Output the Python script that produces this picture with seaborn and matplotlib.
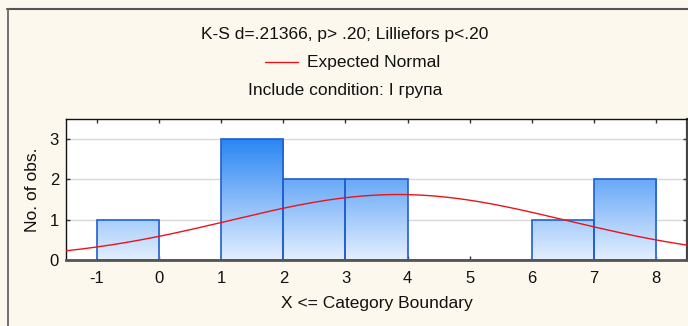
import numpy as np
import pandas as pd
import matplotlib
matplotlib.use("Agg")
import matplotlib.pyplot as plt
import seaborn as sns
from matplotlib.lines import Line2D
from matplotlib.colors import LinearSegmentedColormap

# Histogram bins (category boundaries) and observed counts
bin_edges = [-1, 0, 1, 2, 3, 4, 5, 6, 7, 8]
counts = [1, 0, 3, 2, 2, 0, 0, 1, 2]
x_ticks = [-1, 0, 1, 2, 3, 4, 5, 6, 7, 8]
y_ticks = [0, 1, 2, 3]

# Fitted normal parameters
fit_mean = 3.85
fit_sd = 2.70
n_obs = sum(counts)
bin_width = 1.0

title_lines = ["K-S d=.21366, p> .20; Lilliefors p<.20",
               "Expected Normal",
               "Include condition: I група"]

sns.set_theme(style="white")
plt.rcParams["font.family"] = ["Liberation Sans", "DejaVu Sans"]

bg = "#fdf8ee"
fs_text = 12.5
fs_tick = 12

fig = plt.figure(figsize=(6.88, 3.26), dpi=100, facecolor=bg)
ax = fig.add_axes([66 / 688, 66 / 326, 621 / 688, 141 / 326])
ax.set_facecolor("white")

centers = [(bin_edges[i] + bin_edges[i + 1]) / 2 for i in range(len(counts))]
df = pd.DataFrame({"x": centers, "n": counts})
sns.histplot(data=df, x="x", weights="n", bins=bin_edges, ax=ax,
             stat="count", fill=True, edgecolor="#1f5fd2", linewidth=1.2,
             facecolor="none", alpha=1)

# gradient fill inside each bar
cmap = LinearSegmentedColormap.from_list("bar", ["#e4efff", "#2a86f3"])
for p in ax.patches:
    h = p.get_height()
    if h <= 0:
        continue
    x0 = p.get_x()
    w = p.get_width()
    shade = np.linspace(0, min(1, h / 3.0), 256).reshape(-1, 1)
    im = ax.imshow(shade, extent=[x0, x0 + w, 0, h], origin="lower",
                   cmap=cmap, vmin=0, vmax=1, aspect="auto", zorder=1.5)
    im.set_clip_path(p)
    p.set_zorder(2)

# expected normal curve
xs = np.linspace(-1.5, 8.5, 400)
ys = n_obs * bin_width / (fit_sd * np.sqrt(2 * np.pi)) * np.exp(-0.5 * ((xs - fit_mean) / fit_sd) ** 2)
sns.lineplot(x=xs, y=ys, ax=ax, color="#e8141c", linewidth=1.0, zorder=3)

ax.set_xlim(-1.5, 8.5)
ax.set_ylim(0, 3.5)
ax.set_xticks(x_ticks)
ax.set_xticklabels([str(v) for v in x_ticks])
ax.set_yticks(y_ticks)
ax.set_yticklabels([str(v) for v in y_ticks])
ax.yaxis.grid(True, color="#d9d9d9", linewidth=1.0)
ax.set_axisbelow(True)
ax.tick_params(axis="both", which="both", direction="in", length=3, width=1,
               colors="#333333", labelcolor="#111111", labelsize=fs_tick,
               top=True, right=True, bottom=True, left=True, pad=8)
ax.tick_params(axis="y", pad=5)

for s in ["top", "left"]:
    ax.spines[s].set_color("#111111")
    ax.spines[s].set_linewidth(1.0)
ax.spines["right"].set_color("#444444")
ax.spines["right"].set_linewidth(1.6)
ax.spines["bottom"].set_color("#555555")
ax.spines["bottom"].set_linewidth(2.0)

ax.set_xlabel("X <= Category Boundary", fontsize=fs_text, color="#111111", labelpad=7)
ax.set_ylabel("No. of obs.", fontsize=fs_text, color="#111111", labelpad=7)

# header texts
fig.text(345 / 688, 1 - 34 / 326, title_lines[0], ha="center", va="center",
         fontsize=fs_text, color="#111111")
fig.text(307 / 688, 1 - 62 / 326, title_lines[1], ha="left", va="center",
         fontsize=fs_text, color="#111111")
fig.add_artist(Line2D([265 / 688, 298 / 688], [1 - 62 / 326, 1 - 62 / 326],
                      color="#e8141c", linewidth=1.0, transform=fig.transFigure))
fig.text(345 / 688, 1 - 90 / 326, title_lines[2], ha="center", va="center",
         fontsize=fs_text, color="#111111")

# window frame lines
fig.add_artist(Line2D([7 / 688, 1], [1 - 8.5 / 326, 1 - 8.5 / 326],
                      color="#555555", linewidth=1.5, transform=fig.transFigure))
fig.add_artist(Line2D([7.5 / 688, 7.5 / 688], [0, 1 - 8.5 / 326],
                      color="#666666", linewidth=1.3, transform=fig.transFigure))

fig.savefig("out.png", dpi=100, facecolor=bg)
